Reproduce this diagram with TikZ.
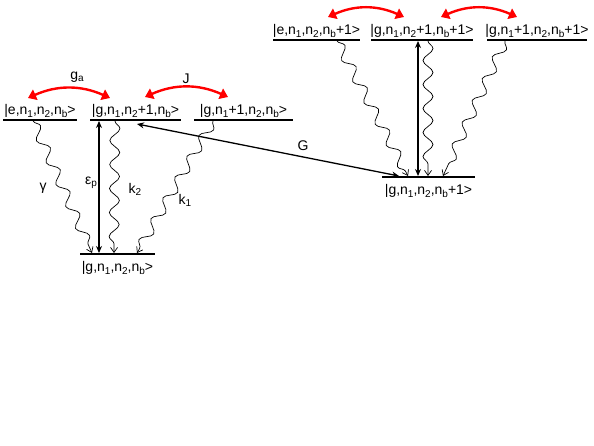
\documentclass[tikz,border=0pt]{standalone}
\usepackage{fontspec}
\setmainfont{Liberation Sans}
\usetikzlibrary{arrows.meta,decorations.pathmorphing}
\newcommand{\sbs}[1]{\raisebox{-0.28ex}{\fontsize{10}{10}\selectfont #1}}
\begin{document}
\begin{tikzpicture}[x=1pt,y=-1pt,
  level/.style={line width=1.6pt},
  lab/.style={font=\fontsize{14}{16}\selectfont, inner sep=0pt},
  statetxt/.style={lab, anchor=base},
  wavy/.style={line width=0.7pt, decorate, decoration={snake, amplitude=5pt, segment length=24pt, post length=5pt, pre length=0pt}, -{Straight Barb[length=5pt,width=7pt]}},
  pump/.style={line width=1.3pt, {Stealth[length=7pt,width=6pt]}-{Stealth[length=7pt,width=6pt]}},
  coupling/.style={red, line width=2.4pt, {Triangle[length=8pt,width=11pt]}-{Triangle[length=8pt,width=11pt]}, bend left=24}
]
\useasboundingbox (0,0) rectangle (594,446);

% ---- left group levels
\coordinate (Lea) at (3,120);   \coordinate (Leb) at (77,120);
\coordinate (Lga) at (90,120);  \coordinate (Lgb) at (181,120);
\coordinate (Lfa) at (194,120); \coordinate (Lfb) at (293,120);
\coordinate (L0a) at (80,254);  \coordinate (L0b) at (155,254);
\draw[level] (Lea) -- (Leb);
\draw[level] (Lga) -- (Lgb);
\draw[level] (Lfa) -- (Lfb);
\draw[level] (L0a) -- (L0b);
\node[statetxt] (tLe) at (40,115) {|e,n\sbs{1},n\sbs{2},n\sbs{b}>};
\node[statetxt] (tLg) at (135.5,115) {|g,n\sbs{1},n\sbs{2}+1,n\sbs{b}>};
\node[statetxt] (tLf) at (243.5,115) {|g,n\sbs{1}+1,n\sbs{2},n\sbs{b}>};
\node[statetxt] (tL0) at (117.5,272) {|g,n\sbs{1},n\sbs{2},n\sbs{b}>};

% ---- right group levels
\coordinate (Rea) at (273,40);  \coordinate (Reb) at (360,40);
\coordinate (Rga) at (371,40);  \coordinate (Rgb) at (473,40);
\coordinate (Rfa) at (487,40);  \coordinate (Rfb) at (587,40);
\coordinate (R0a) at (382,177); \coordinate (R0b) at (475,177);
\draw[level] (Rea) -- (Reb);
\draw[level] (Rga) -- (Rgb);
\draw[level] (Rfa) -- (Rfb);
\draw[level] (R0a) -- (R0b);
\node[statetxt] (tRe) at (316.5,35) {|e,n\sbs{1},n\sbs{2},n\sbs{b}+1>};
\node[statetxt] (tRg) at (422,35) {|g,n\sbs{1},n\sbs{2}+1,n\sbs{b}+1>};
\node[statetxt] (tRf) at (537,35) {|g,n\sbs{1}+1,n\sbs{2},n\sbs{b}+1>};
\node[statetxt] (tR0) at (428.5,195) {|g,n\sbs{1},n\sbs{2},n\sbs{b}+1>};

% ---- left transitions
\coordinate (gamS) at (33,121);  \coordinate (gamE) at (92,253);
\coordinate (epS) at (99,253);   \coordinate (epE) at (99,121);
\coordinate (k2S) at (115,121);  \coordinate (k2E) at (114,253);
\coordinate (k1S) at (213,121);  \coordinate (k1E) at (137,253);
\draw[wavy] (gamS) -- (gamE);
\draw[pump] (epS) -- (epE);
\draw[wavy] (k2S) -- (k2E);
\draw[wavy] (k1S) -- (k1E);

% ---- right transitions
\coordinate (rgamS) at (337,41); \coordinate (rgamE) at (408,176);
\coordinate (repS) at (418,176); \coordinate (repE) at (418,41);
\coordinate (rk2S) at (428,41);  \coordinate (rk2E) at (428,176);
\coordinate (rk1S) at (505,41);  \coordinate (rk1E) at (443,176);
\draw[wavy] (rgamS) -- (rgamE);
\draw[pump] (repS) -- (repE);
\draw[wavy] (rk2S) -- (rk2E);
\draw[wavy] (rk1S) -- (rk1E);

% ---- G coupling
\coordinate (GS) at (137,124); \coordinate (GE) at (399,176);
\draw[pump] (GS) -- (GE);

% ---- red coupling arrows
\coordinate (gaS) at (28,98);   \coordinate (gaE) at (110,98);
\coordinate (JS) at (145,97);   \coordinate (JE) at (228,97);
\coordinate (rgaS) at (328,17); \coordinate (rgaE) at (404,17);
\coordinate (rJS) at (441,17);  \coordinate (rJE) at (517,17);
\draw[coupling] (gaS) to (gaE);
\draw[coupling] (JS) to (JE);
\draw[coupling] (rgaS) to (rgaE);
\draw[coupling] (rJS) to (rJE);

% ---- labels
\node[lab] (lga) at (77,77) {g\sbs{a}};
\node[lab] (lJ) at (186,79) {J};
\node[lab] (lgam) at (43,188) {γ};
\node[lab] (lep) at (91,183) {ε\sbs{p}};
\node[lab] (lk2) at (135,189) {k\sbs{2}};
\node[lab] (lk1) at (185,200) {k\sbs{1}};
\node[lab] (lG) at (303,146) {G};
\end{tikzpicture}
\end{document}
